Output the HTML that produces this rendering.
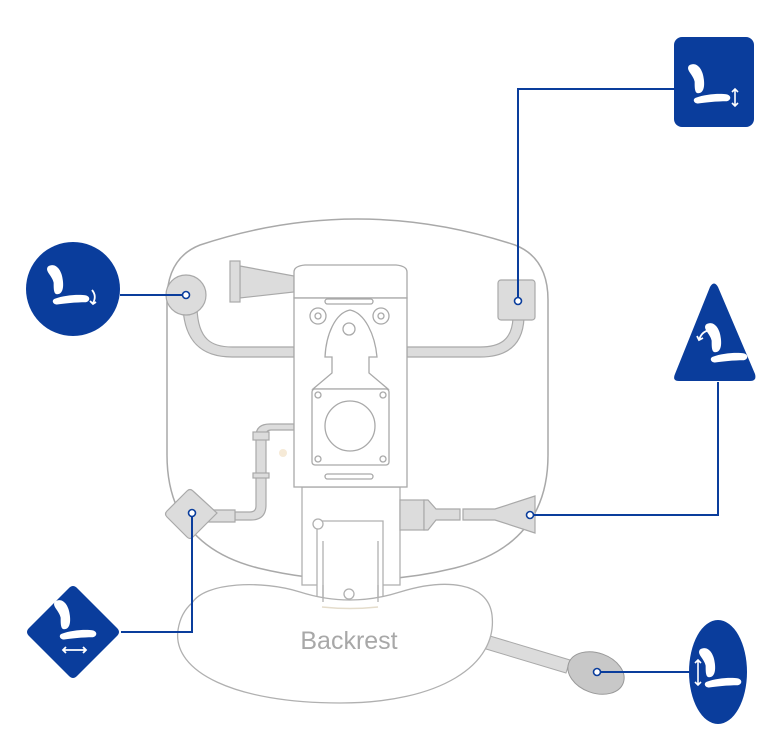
<!DOCTYPE html>
<html><head><meta charset="utf-8"><style>
html,body{margin:0;padding:0;background:#fff;}
svg{display:block;}
</style></head><body>
<svg width="778" height="753" viewBox="0 0 778 753" xmlns="http://www.w3.org/2000/svg">
<defs>
<g id="seat">
  <path d="M-14,-16 C-8,-20 -2,-14 -1,-4 C0,4 -2,8 -6,8 C-9,8 -9,3 -9,-2 C-10,-8 -17,-12 -14,-16 Z" fill="#fff"/>
  <path d="M-8,12 C0,9 12,8 19,9 C23,10 23,14 19,15 C10,15 0,16 -6,17 C-10,17 -11,13 -8,12 Z" fill="#fff"/>
</g>
</defs>
<g fill="none" stroke="#a9a9a9" stroke-width="1.5">
  <path d="M200,245 Q357,193 515,245 Q548,258 548,300 L548,455 Q548,545 455,568 Q357,592 258,568 Q167,545 167,455 L167,300 Q167,258 200,245 Z"/>
</g>
<g fill="#fff" stroke="#b0b0b0" stroke-width="1.3">
  <rect x="302" y="487" width="98" height="98"/>
  <path d="M317,600 L317,521 L383,521 L383,600"/>
  <path d="M323,605 L323,541 M378,605 L378,541"/>
  <circle cx="318" cy="524" r="5"/>
</g>
<path d="M480,633 L570,660 L566,673 L476,646 Z" fill="#dcdcdc" stroke="#a9a9a9" stroke-width="1"/>
<path d="M192,603 C205,582 262,580 300,592 Q350,608 400,592 C445,578 488,582 492,615 C498,665 440,703 340,703 C235,703 172,672 178,630 C180,617 185,609 192,603 Z" fill="#fff" stroke="#b0b0b0" stroke-width="1.3"/>
<path d="M323,585 L323,602 M378,585 L378,602" stroke="#b0b0b0" stroke-width="1.3"/>
<circle cx="349" cy="594" r="5" fill="#fff" stroke="#b0b0b0" stroke-width="1.3"/>
<path d="M322,607 Q350,610 378,607" stroke="#e4dccb" stroke-width="1.5" fill="none"/>
<text x="349" y="649" text-anchor="middle" font-family="Liberation Sans, sans-serif" font-size="25" fill="#a8a8a8">Backrest</text>
<ellipse cx="596" cy="673" rx="29" ry="20" transform="rotate(20 596 673)" fill="#c8c8c8" stroke="#999" stroke-width="1"/>

<g fill="#dcdcdc" stroke="#a9a9a9" stroke-width="1.2">
  <path d="M240,266 L294,276 L294,292 L240,298 Z"/>
  <rect x="230" y="261" width="10" height="41"/>
  <path d="M183,308 C185,345 205,357 232,357 L294,357 L294,347 L232,347 C212,347 198,340 197,308 Z"/>
  <circle cx="186" cy="295" r="20"/>
  <path d="M513,318 C512,340 500,347 480,347 L407,347 L407,357 L480,357 C510,357 523,342 524,318 Z"/>
  <rect x="498" y="280" width="37" height="40" rx="3"/>
  <rect x="400" y="500" width="24" height="30"/>
  <path d="M424,500 L428,500 L436,509 L460,509 L460,520 L436,520 L428,530 L424,530 Z"/>
  <path d="M463,509 L495,509 L535,496 L535,533 L495,520 L463,520 Z"/>
  <path d="M256,436 L256,506 Q256,512 250,512 L235,512 L235,520 L251,520 Q266,520 266,505 L266,436 Z"/>
  <path d="M256,436 Q256,424 270,424 L294,424 L294,430 L271,430 Q266,430 266,436 Z"/>
  <rect x="253" y="432" width="16" height="8"/>
  <rect x="253" y="473" width="16" height="5"/>
  <path d="M208,510 L235,510 L235,522 L208,522 Z"/>
  <path d="M193,491 L217,513 L193,537 Q190,540 187,537 L167,517 Q164,514 167,511 L187,491 Q190,488 193,491 Z"/>
</g>
<circle cx="283" cy="453" r="4" fill="#f6ead7"/>

<g fill="#fff" stroke="#a9a9a9" stroke-width="1.3">
  <path d="M294,298 L294,272 Q294,266 305,265 L396,265 Q407,266 407,272 L407,298 Z"/>
  <rect x="294" y="298" width="113" height="189"/>
  <rect x="325" y="299" width="48" height="5" rx="2.5"/>
  <circle cx="318" cy="316" r="8"/><circle cx="318" cy="316" r="3"/>
  <circle cx="381" cy="316" r="8"/><circle cx="381" cy="316" r="3"/>
  <path d="M350,310 C335,313 326,335 325,357 L332,357 L332,373 L313,389 L388,389 L369,373 L369,357 L377,357 C375,335 365,313 350,310 Z"/>
  <circle cx="349" cy="329" r="6"/>
  <rect x="312" y="389" width="77" height="76" rx="3"/>
  <circle cx="350" cy="426" r="25"/>
  <circle cx="318" cy="395" r="3"/><circle cx="383" cy="395" r="3"/>
  <circle cx="318" cy="459" r="3"/><circle cx="383" cy="459" r="3"/>
  <rect x="325" y="474" width="48" height="5" rx="2.5"/>
</g>

<g stroke="#0a3d9c" stroke-width="2" fill="none">
  <path d="M120,295 L186,295"/>
  <path d="M674,89 L518,89 L518,301"/>
  <path d="M718,382 L718,515 L530,515"/>
  <path d="M121,632 L192,632 L192,513"/>
  <path d="M690,672 L597,672"/>
</g>
<g fill="#fff" stroke="#0a3d9c" stroke-width="1.6">
  <circle cx="186" cy="295" r="3.5"/>
  <circle cx="518" cy="301" r="3.5"/>
  <circle cx="530" cy="515" r="3.5"/>
  <circle cx="192" cy="513" r="3.5"/>
  <circle cx="597" cy="672" r="3.5"/>
</g>

<g fill="#0a3d9c">
  <circle cx="73" cy="289" r="47"/>
  <rect x="674" y="37" width="80" height="90" rx="8"/>
  <path d="M710,287 Q714,280 718,287 L755,374 Q757,381 750,381 L679,381 Q672,381 675,374 Z"/>
  <path d="M69,588 Q73,584 77,588 L117,628 Q121,632 117,636 L77,676 Q73,680 69,676 L29,636 Q25,632 29,628 Z"/>
  <ellipse cx="718" cy="672" rx="29" ry="52"/>
</g>
<use href="#seat" transform="translate(64,285) scale(1.15)"/>
<path d="M92,290 Q97,296 93,303 M90,301 L93,304 L96,302" stroke="#fff" stroke-width="1.8" fill="none"/>
<use href="#seat" transform="translate(705,84) scale(1.15)"/>
<path d="M735,89 L735,106 M732,92 L735,89 L738,92 M732,103 L735,106 L738,103" stroke="#fff" stroke-width="1.6" fill="none"/>
<use href="#seat" transform="translate(722,343) scale(1.15)"/>
<path d="M699,340 Q702,330 712,330 M697,336 L699,340 L703,338 M709,327 L712,330 L708,333" stroke="#fff" stroke-width="1.8" fill="none"/>
<use href="#seat" transform="translate(71,620) scale(1.15)"/>
<path d="M63,650 L86,650 M66,647 L63,650 L66,653 M83,647 L86,650 L83,653" stroke="#fff" stroke-width="1.8" fill="none"/>
<use href="#seat" transform="translate(716,668) scale(1.15)"/>
<path d="M698,660 L698,685 M695,663 L698,660 L701,663 M695,682 L698,685 L701,682" stroke="#fff" stroke-width="1.6" fill="none"/>
</svg>
</body></html>
